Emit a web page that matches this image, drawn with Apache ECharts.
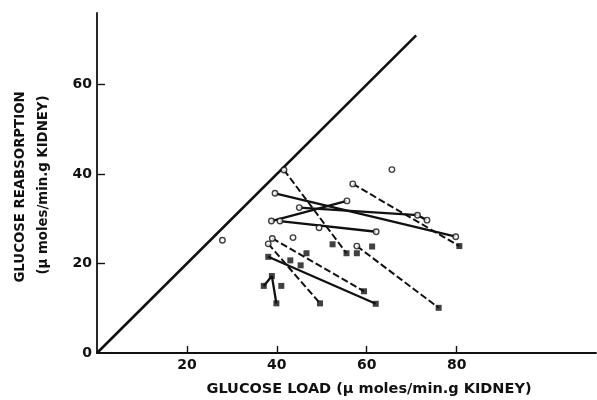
<!DOCTYPE html>
<html>
<head>
<meta charset="utf-8">
<script src="https://cdn.jsdelivr.net/npm/echarts@6/dist/echarts.min.js"></script>
<style>
html,body{margin:0;padding:0;background:#fff;}
#chart{width:597px;height:400px;}
</style>
</head>
<body>
<div id="chart"></div>
<script>
// ---- data (glucose load, glucose reabsorption) ----
const xTicks = [20, 40, 60, 80];
const yTicks = [0, 20, 40, 60];
const identityLine = [[0, 0], [71, 71]];

const solidPairs = [
  [[39.6, 35.7], [79.8, 26.0]],
  [[45.0, 32.5], [71.3, 30.8]],
  [[71.3, 30.8], [73.4, 29.7]],
  [[38.8, 29.5], [55.6, 34.0]],
  [[40.7, 29.5], [62.1, 27.1]],
  [[38.1, 21.5], [62.0, 11.0]],
  [[38.9, 17.2], [39.9, 11.1]],
  [[38.9, 17.2], [37.1, 15.0]]
];

const dashedPairs = [
  [[41.6, 40.9], [55.5, 22.3]],
  [[56.9, 37.8], [80.6, 23.9]],
  [[39.0, 25.6], [59.4, 13.8]],
  [[38.1, 24.4], [49.6, 11.1]],
  [[57.8, 23.9], [76.0, 10.1]]
];

const openCircles = [
  [27.9, 25.2], [41.6, 40.9], [65.6, 41.0], [56.9, 37.8], [39.6, 35.7],
  [79.8, 26.0], [45.0, 32.5], [71.3, 30.8], [73.4, 29.7], [38.8, 29.5],
  [55.6, 34.0], [40.7, 29.5], [62.1, 27.1], [49.4, 28.0], [39.0, 25.6],
  [43.6, 25.8], [38.1, 24.4], [57.8, 23.9]
];

const filledSquares = [
  [55.5, 22.3], [80.6, 23.9], [59.4, 13.8], [49.6, 11.1], [76.0, 10.1],
  [38.1, 21.5], [62.0, 11.0], [52.4, 24.3], [57.8, 22.3], [61.2, 23.8],
  [46.6, 22.3], [43.0, 20.7], [45.3, 19.6], [38.9, 17.2], [39.9, 11.1],
  [37.1, 15.0], [41.0, 15.0]
];

const xTitle = 'GLUCOSE LOAD (\u00b5 moles/min.g KIDNEY)';
const yTitle1 = 'GLUCOSE REABSORPTION';
const yTitle2 = '(\u00b5 moles/min.g KIDNEY)';

// ---- chart ----
const INK = '#111';
const FONT = '"DejaVu Sans", sans-serif';
const chart = echarts.init(document.getElementById('chart'), null, {renderer: 'canvas'});

const series = [];
series.push({
  type: 'line', data: identityLine, symbol: 'none', silent: true,
  lineStyle: {color: INK, width: 2.6}, z: 2
});
solidPairs.forEach(p => series.push({
  type: 'line', data: p, symbol: 'none', silent: true,
  lineStyle: {color: INK, width: 2.3}, z: 3
}));
dashedPairs.forEach(p => series.push({
  type: 'line', data: p, symbol: 'none', silent: true,
  lineStyle: {color: INK, width: 2, type: [7, 3]}, z: 3
}));
series.push({
  type: 'scatter', data: openCircles, symbol: 'circle', symbolSize: 5.5,
  itemStyle: {color: '#fff', borderColor: INK, borderWidth: 1.4}, z: 5
});
series.push({
  type: 'scatter', data: filledSquares, symbol: 'rect', symbolSize: 6,
  itemStyle: {color: INK}, z: 5
});

chart.setOption({
  animation: false,
  backgroundColor: '#fff',
  grid: {left: 97, top: 13, width: 499, height: 340, containLabel: false},
  xAxis: {
    type: 'value', min: 0, max: 111, interval: 20,
    splitLine: {show: false},
    axisLine: {show: true, lineStyle: {color: INK, width: 1.8}},
    axisTick: {show: true, inside: true, length: 7, customValues: xTicks,
      lineStyle: {color: INK, width: 1.4}},
    axisLabel: {customValues: xTicks, color: INK, fontFamily: FONT,
      fontWeight: 'bold', fontSize: 14, margin: 5}
  },
  yAxis: {
    type: 'value', min: 0, max: 76, interval: 20,
    splitLine: {show: false},
    axisLine: {show: true, lineStyle: {color: INK, width: 1.8}},
    axisTick: {show: true, inside: true, length: 8, customValues: [20, 40, 60],
      lineStyle: {color: INK, width: 1.4}},
    axisLabel: {customValues: yTicks, color: INK, fontFamily: FONT,
      fontWeight: 'bold', fontSize: 14, margin: 5}
  },
  graphic: [
    {type: 'text', x: 369, y: 389, style: {text: xTitle, fill: INK,
      font: 'bold 14.5px ' + FONT, align: 'center', verticalAlign: 'middle'}},
    {type: 'text', x: 20.5, y: 187, rotation: Math.PI / 2, style: {text: yTitle1, fill: INK,
      font: 'bold 13.3px ' + FONT, align: 'center', verticalAlign: 'middle'}},
    {type: 'text', x: 44, y: 185, rotation: Math.PI / 2, style: {text: yTitle2, fill: INK,
      font: 'bold 13.3px ' + FONT, align: 'center', verticalAlign: 'middle'}}
  ],
  series: series
});
</script>
</body>
</html>
